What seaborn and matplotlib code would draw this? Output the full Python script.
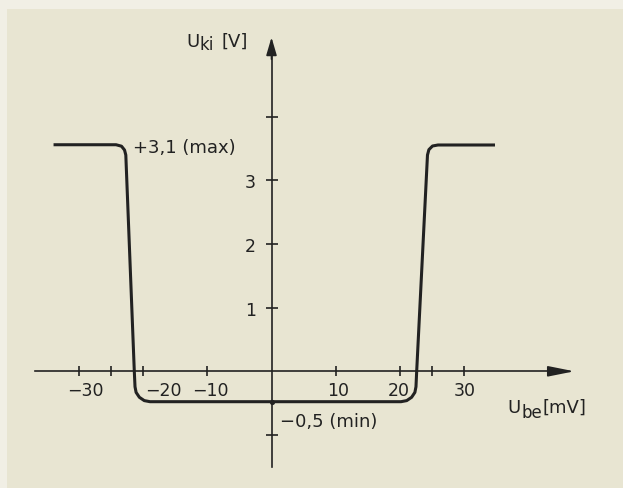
import matplotlib
matplotlib.use("Agg")
import matplotlib.pyplot as plt
import matplotlib.transforms as mtransforms
import seaborn as sns

# ── Data ─────────────────────────────────────────────────────────────────────
# transfer curve U_ki over U_be (mV -> V)
ube = [-33.9, -24.18, -23.33, -22.86, -22.66, -21.34, -21.23, -21.06, -20.55,
       -19.79, -18.9, 0.0, 20.14, 21.03, 21.79, 22.3, 22.47, 22.58, 24.26,
       24.48, 25.04, 25.89, 34.76]
uki = [3.557, 3.557, 3.534, 3.474, 3.395, 0.0, -0.242, -0.331, -0.408,
       -0.46, -0.477, -0.477, -0.477, -0.46, -0.408, -0.331, -0.242, 0.0,
       3.396, 3.48, 3.537, 3.553, 3.553]

# dot where the curve meets the vertical axis
dot_x = [0.0]
dot_y = [-0.477]

x_ticks = [-30, -25, -20, -10, 10, 20, 25, 30]
x_tick_labels = ["−30", "", "−20", "−10", "10", "20", "", "30"]
y_ticks = [-1, 1, 2, 3, 4]
y_tick_labels = ["", "1", "2", "3", ""]

max_label = "+3,1 (max)"
min_label = "−0,5 (min)"

# ── Style ────────────────────────────────────────────────────────────────────
INK = "#222222"
PAPER = "#e8e5d2"
FRAME = "#f1efe5"
x_label_nudge = [5, 0, 14.5, 2.5, 1.5, -1, 0, 0]   # points, hand lettering

sns.set_theme(style="white", rc={
    "axes.facecolor": PAPER,
    "figure.facecolor": FRAME,
    "axes.edgecolor": INK,
    "axes.linewidth": 1.2,
    "text.color": INK,
    "xtick.color": INK,
    "ytick.color": INK,
    "xtick.bottom": True,
    "ytick.left": True,
})
plt.rcParams["font.family"] = ["DejaVu Sans"]

fig = plt.figure(figsize=(6.23, 4.89), dpi=100)
ax = fig.add_axes([7 / 623, 0, 616 / 623, 479 / 489])

sns.lineplot(x=ube, y=uki, sort=False, estimator=None, ax=ax,
             color=INK, linewidth=2.2, solid_joinstyle="round",
             solid_capstyle="butt")
sns.scatterplot(x=dot_x, y=dot_y, ax=ax, color=INK, s=14, linewidth=0,
                zorder=5)

ax.set_xlim(-41.14, 54.67)
ax.set_ylim(-1.832, 5.688)

# axes crossing at the origin
for side in ("top", "right"):
    ax.spines[side].set_visible(False)
ax.spines["left"].set_position(("data", 0))
ax.spines["bottom"].set_position(("data", 0))
ax.spines["bottom"].set_bounds(-36.78, 45.0)
ax.spines["left"].set_bounds(-1.502, 5.0)

ax.annotate("", xy=(47.09, 0), xytext=(44.0, 0),
            arrowprops=dict(arrowstyle="-|>,head_length=1.0,head_width=0.2",
                            lw=1.2, color=INK, mutation_scale=16,
                            shrinkA=0, shrinkB=0))
ax.annotate("", xy=(0, 5.243), xytext=(0, 4.9),
            arrowprops=dict(arrowstyle="-|>,head_length=0.68,head_width=0.2",
                            lw=1.2, color=INK, mutation_scale=16,
                            shrinkA=0, shrinkB=0))

ax.set_xticks(x_ticks, x_tick_labels)
ax.set_yticks(y_ticks, y_tick_labels)
ax.tick_params(axis="x", bottom=True, direction="inout", length=7.2,
               width=1.2, pad=3.2, labelsize=12.5)
ax.tick_params(axis="y", left=True, direction="inout", length=9,
               width=1.2, pad=6.7, labelsize=12.5)
ax.set_xlabel("")
ax.set_ylabel("")

for lbl, dx in zip(ax.get_xticklabels(), x_label_nudge):
    off = mtransforms.ScaledTranslation(dx / 72, 0, fig.dpi_scale_trans)
    lbl.set_transform(lbl.get_transform() + off)

# axis titles with near full-size subscripts
u1 = ax.text(-13.3, 5.11, "U", fontsize=13, va="baseline")
k1 = ax.annotate("ki", xy=(1, 0), xycoords=u1, xytext=(0.5, -2),
                 textcoords="offset points", va="bottom", fontsize=12)
ax.annotate("[V]", xy=(1, 0), xycoords=(k1, u1), xytext=(5, 0),
            textcoords="offset points", va="bottom", fontsize=13)

u2 = ax.text(36.7, -0.64, "U", fontsize=13, va="baseline")
b2 = ax.annotate("be", xy=(1, 0), xycoords=u2, xytext=(0.5, -3.6),
                 textcoords="offset points", va="bottom", fontsize=12)
ax.annotate("[mV]", xy=(1, 0), xycoords=(b2, u2), xytext=(0.5, 0),
            textcoords="offset points", va="bottom", fontsize=13)

ax.text(-21.5, 3.44, max_label, fontsize=13, va="baseline", ha="left")
ax.text(1.3, -0.854, min_label, fontsize=13, va="baseline", ha="left")

fig.savefig("out.png", dpi=100, facecolor=FRAME)
